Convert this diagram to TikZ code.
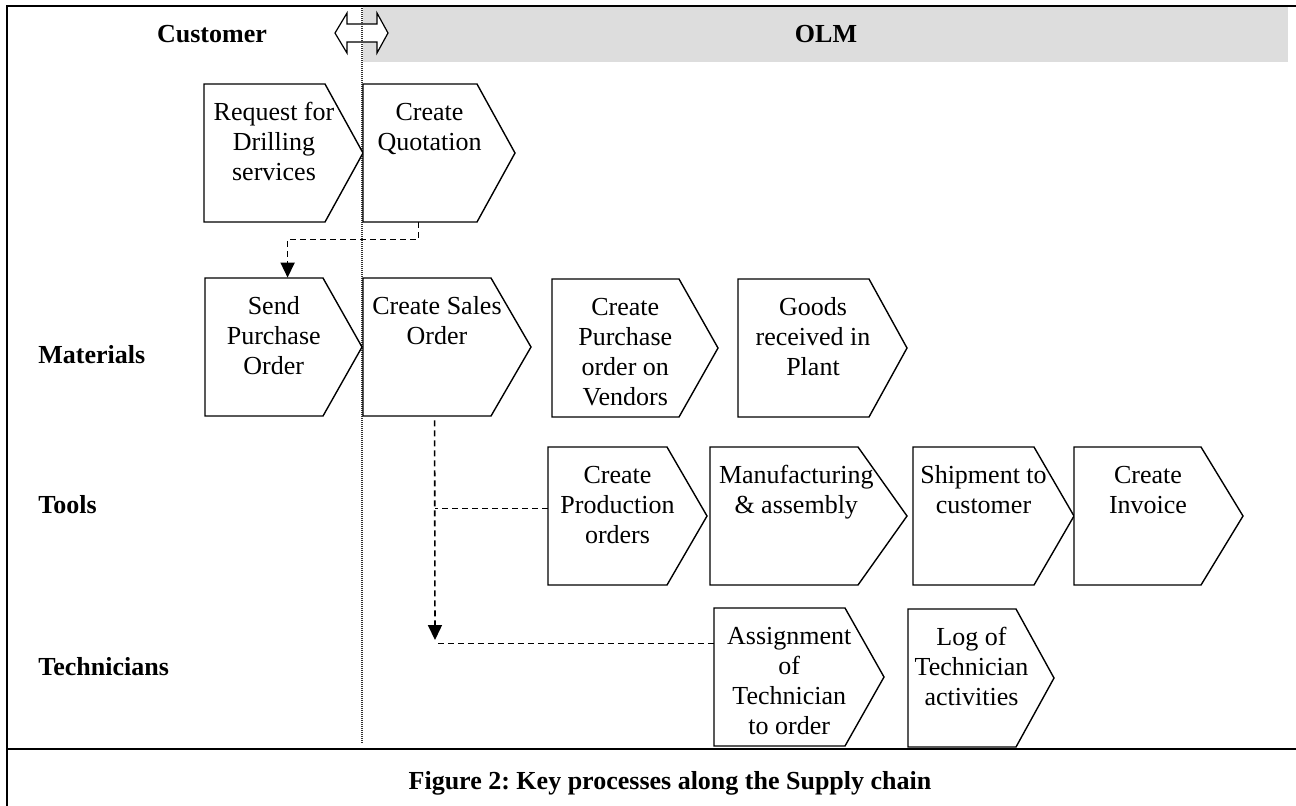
\documentclass[tikz,border=0pt]{standalone}
\usepackage{fontspec}
\setmainfont{Liberation Serif}
\usetikzlibrary{arrows.meta,fit}
\frenchspacing

\definecolor{bandgray}{HTML}{DDDDDD}

\tikzset{
  frameline/.style={line width=1.1pt, line cap=rect},
  chevline/.style={draw, line width=0.7pt, line join=miter, fill=white},
  proc/.style={font=\fontsize{13pt}{15pt}\selectfont, inner sep=0pt},
  lane/.style={font=\fontsize{13pt}{15pt}\selectfont\bfseries, inner sep=0pt},
  conn/.style={line width=0.8pt, dash pattern=on 3pt off 2pt},
  tip/.style={-{Triangle[length=7.5pt,width=7pt]}},
  divider/.style={line width=0.55pt, dash pattern=on 0.5pt off 0.5pt, black!80}
}

% chevron process step: name, left x, top y, right x of the flat top, pointer x, text
% the text block hangs from the baseline of its first line
\newcommand{\procstep}[6]{%
  \draw[chevline] (#2,#3) -- (#4,#3) -- (#5,#3+69) -- (#4,#3+138) -- (#2,#3+138) -- cycle;
  \node[fit={(#2,#3) (#5,#3+138)}, inner sep=0pt] (#1) {};
  \node[proc, anchor=base] (#1-t) at ({#2+(#4-#2+(#5-#4)/2)/2}, #3+36)
    {\begin{tabular}[t]{@{}c@{}}#6\end{tabular}};
}

\begin{document}
\begin{tikzpicture}[x=0.5pt, y=-0.5pt]
  \useasboundingbox (0,0) rectangle (1296,805);

  % header band for the company side
  \fill[bandgray] (363,7) rectangle (1288,62);

  % two-way hand-over arrow between customer and company
  \draw[line width=0.6pt, fill=white, line join=miter]
    (335,33) -- (347,13) -- (347,24) -- (377,24) -- (377,13) -- (388,33)
    -- (377,53) -- (377,42) -- (347,42) -- (347,53) -- cycle;

  % customer / company divider
  \draw[divider] (362,6) -- (362,743);

  % frame
  \draw[frameline] (7,805) -- (7,6) -- (1296,6);
  \draw[frameline] (7,749) -- (1296,749);

  % lane titles
  \node[lane, anchor=base] (cust) at (212,42) {Customer};
  \node[lane, anchor=base] (olm) at (826,42) {OLM};
  \node[lane, anchor=base west] (mat) at (38,363) {Materials};
  \node[lane, anchor=base west] (tools) at (38,513) {Tools};
  \node[lane, anchor=base west] (tech) at (38,675) {Technicians};

  % process steps
  \procstep{rfq}{204}{84}{325}{363}{Request for\\Drilling\\services}
  \procstep{qt}{363}{84}{477}{515}{Create\\Quotation}

  \procstep{spo}{205}{278}{323}{362}{Send\\Purchase\\Order}
  \procstep{cso}{363}{278}{491}{531}{Create Sales\\Order}
  \procstep{cpv}{552}{279}{679}{718}{Create\\Purchase\\order on\\Vendors}
  \procstep{grp}{738}{279}{869}{907}{Goods\\received in\\Plant}

  \procstep{cpo}{548}{447}{667}{707}{Create\\Production\\orders}
  \procstep{mfa}{710}{447}{858}{907}{Manufacturing\\\& assembly}
  \procstep{shp}{913}{447}{1034}{1074}{Shipment to\\customer}
  \procstep{inv}{1074}{447}{1201}{1243}{Create\\Invoice}

  \procstep{asg}{714}{608}{845}{884}{Assignment\\of\\Technician\\to order}
  \procstep{log}{908}{609}{1016}{1054}{Log of\\Technician\\activities}

  % quotation leads to the purchase order
  \draw[conn, tip] ([xshift=28pt]qt.south west) -- ++(0,17)
    -| ([xshift=41.5pt]spo.north west);

  % sales order fans out to production and technicians
  \coordinate (drop) at (435,640);
  \draw[conn, tip] ([xshift=36pt, yshift=-2pt]cso.south west) -- (drop);
  \coordinate (cpoin) at ([yshift=-31pt]cpo.north west);
  \draw[conn] (cpoin) -- (cpoin -| drop);
  \coordinate (asgin) at ([yshift=-18pt]asg.north west);
  \draw[conn] (asgin) -- ([xshift=1.5pt]asgin -| drop);

  % caption
  \node[lane, anchor=base] (cap) at (670,789) {Figure 2: Key processes along the Supply chain};
\end{tikzpicture}
\end{document}
